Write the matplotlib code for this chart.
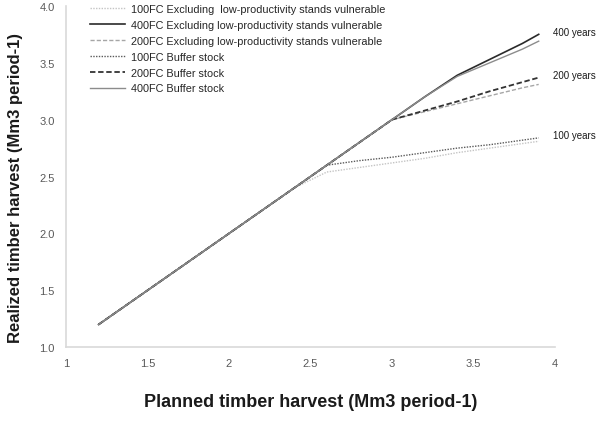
import matplotlib
matplotlib.use("Agg")
import matplotlib.pyplot as plt

planned = [1.2, 1.6, 2.0, 2.4, 2.6, 2.8, 3.0, 3.2, 3.4, 3.6, 3.8, 3.9]

excl_100 = [1.2, 1.6, 2.0, 2.4, 2.54, 2.58, 2.62, 2.66, 2.71, 2.75, 2.79, 2.81]
excl_400 = [1.2, 1.6, 2.0, 2.4, 2.6, 2.8, 3.0, 3.2, 3.39, 3.53, 3.67, 3.75]
excl_200 = [1.2, 1.6, 2.0, 2.4, 2.6, 2.8, 3.0, 3.07, 3.14, 3.21, 3.28, 3.31]
buf_100 = [1.2, 1.6, 2.0, 2.4, 2.6, 2.64, 2.67, 2.71, 2.75, 2.78, 2.82, 2.84]
buf_200 = [1.2, 1.6, 2.0, 2.4, 2.6, 2.8, 3.0, 3.08, 3.16, 3.25, 3.33, 3.37]
buf_400 = [1.2, 1.6, 2.0, 2.4, 2.6, 2.8, 3.0, 3.2, 3.38, 3.50, 3.62, 3.69]

labels = [
    "100FC Excluding  low-productivity stands vulnerable",
    "400FC Excluding low-productivity stands vulnerable",
    "200FC Excluding low-productivity stands vulnerable",
    "100FC Buffer stock",
    "200FC Buffer stock",
    "400FC Buffer stock",
]
xticks = [1, 1.5, 2, 2.5, 3, 3.5, 4]
xticklabels = ["1", "1.5", "2", "2.5", "3", "3.5", "4"]
yticks = [1.0, 1.5, 2.0, 2.5, 3.0, 3.5, 4.0]
yticklabels = ["1.0", "1.5", "2.0", "2.5", "3.0", "3.5", "4.0"]
year_labels = ["400 years", "200 years", "100 years"]

plt.rcParams['font.family'] = ['Liberation Sans', 'DejaVu Sans']

fig = plt.figure(figsize=(6.0, 4.31), dpi=100)
ax = fig.add_axes([0.11, 0.192, 0.815, 0.792])

series = [excl_100, excl_400, excl_200, buf_100, buf_200, buf_400]
styles = [
    dict(color="#c4c4c4", ls=(0, (1, 1)), lw=1.0),
    dict(color="#2a2a2a", ls="-", lw=1.2),
    dict(color="#a6a6a6", ls=(0, (3, 1.5)), lw=1.0),
    dict(color="#5a5a5a", ls=(0, (1, 1)), lw=1.0),
    dict(color="#333333", ls=(0, (3, 1.5)), lw=1.3),
    dict(color="#8c8c8c", ls="-", lw=1.0),
]
for s, st, lab in zip(series, styles, labels):
    ax.plot(planned, s, label=lab, **st)

ax.set_xlim(1, 4)
ax.set_ylim(1.0, 4.0)
ax.set_xticks(xticks)
ax.set_xticklabels(xticklabels)
ax.set_yticks(yticks)
ax.set_yticklabels(yticklabels)
ax.tick_params(length=0, labelsize=8, colors="#595959", pad=8)
for sp in ["top", "right"]:
    ax.spines[sp].set_visible(False)
for sp in ["left", "bottom"]:
    ax.spines[sp].set_color("#d9d9d9")
    ax.spines[sp].set_linewidth(1.2)

ax.set_xlabel("Planned timber harvest (Mm3 period-1)", fontsize=13,
              fontweight="bold", color="#1a1a1a", labelpad=18)
ax.set_ylabel("Realized timber harvest (Mm3 period-1)", fontsize=12,
              fontweight="bold", color="#1a1a1a")
ax.yaxis.set_label_coords(-0.088, 0.47)

ends = [excl_400[-1], buf_200[-1], buf_100[-1]]
for lab, yv in zip(year_labels, ends):
    ax.annotate(lab, xy=(planned[-1], yv), xytext=(10, 2),
                textcoords="offset points", fontsize=7, color="#1a1a1a",
                va="center", ha="left", annotation_clip=False)

leg = ax.legend(loc="upper left", bbox_to_anchor=(0.03, 1.035), frameon=False,
                fontsize=7.8, handlelength=3.2, handletextpad=0.5,
                labelspacing=0.55, labelcolor="#262626")

fig.savefig("out.png", dpi=100)
